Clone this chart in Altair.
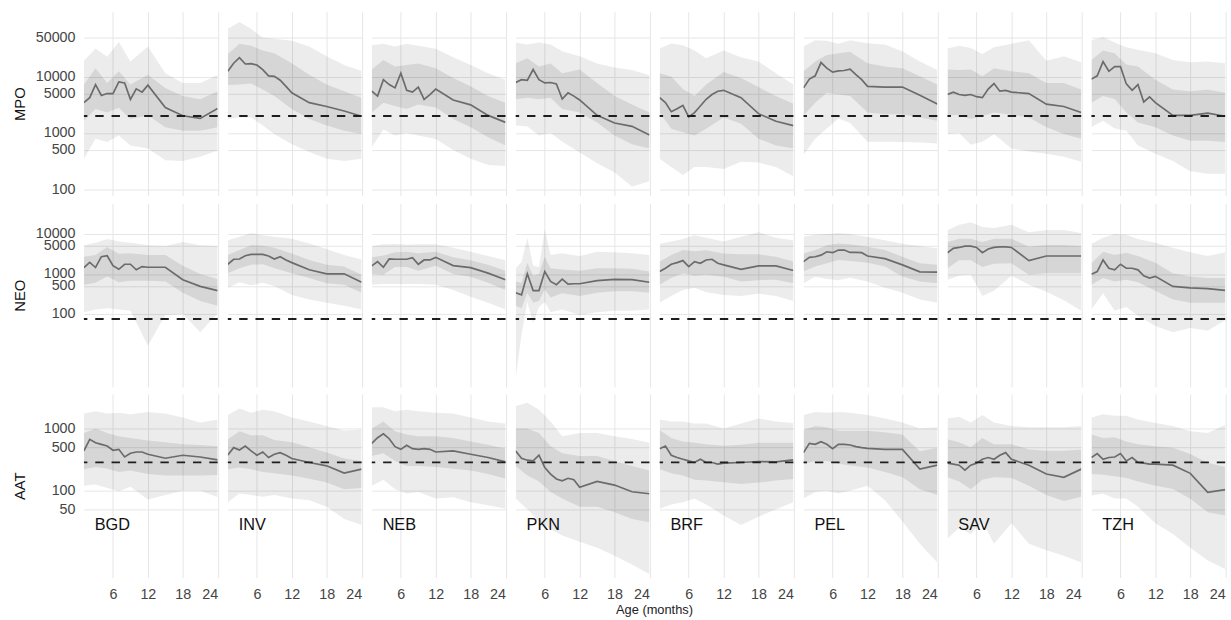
import altair as alt
import pandas as pd

SITES = ["BGD", "INV", "NEB", "PKN", "BRF", "PEL", "SAV", "TZH"]
LINE_MONTHS = [1, 2, 3, 4, 5, 6, 7, 8, 9, 10, 11, 12, 15, 18, 21, 24]
BAND_MONTHS = [1, 3, 5, 7, 9, 12, 15, 18, 21, 24]
PKN_NEO_BAND_MONTHS = [1, 2, 3, 4, 5, 6, 7, 9, 12, 15, 18, 21, 24]

# ---------------- MPO ----------------
MPO_MED = {
    "BGD": [3440, 4220, 7200, 4620, 5000, 5000, 8020, 7700, 3940, 6050, 5300, 7030, 2820, 2020, 1810, 2710],
    "INV": [12400, 17200, 21600, 16700, 16900, 16000, 13300, 10300, 10100, 8600, 6700, 5150, 3450, 2950, 2450, 1980],
    "NEB": [5500, 4500, 8800, 7200, 6300, 11500, 5700, 5300, 6500, 3950, 4800, 6000, 3850, 3150, 2050, 1540],
    "PKN": [7850, 8800, 8600, 13300, 8800, 7700, 7850, 7400, 4000, 5150, 4500, 3850, 2050, 1500, 1310, 920],
    "BRF": [4220, 3450, 2380, 2700, 3080, 1930, 2300, 3000, 3950, 4800, 5500, 5700, 4220, 2200, 1610, 1350],
    "PEL": [6300, 9000, 10300, 17700, 14100, 12000, 12600, 12800, 13500, 10800, 8800, 6700, 6500, 6500, 4650, 3250],
    "SAV": [4800, 5300, 4800, 4650, 4800, 4400, 4220, 6000, 7500, 5500, 5700, 5300, 5000, 3250, 2950, 2300],
    "TZH": [9000, 10300, 18400, 12400, 15000, 15000, 7400, 5700, 7200, 3550, 4350, 3450, 2050, 2050, 2250, 1980],
}
MPO_OUT_HI = {
    "BGD": [19000, 31500, 22500, 41000, 18500, 34000, 11500, 7700, 7700, 10700],
    "INV": [70000, 93000, 70000, 49000, 47000, 43000, 34000, 23000, 16000, 12500],
    "NEB": [36000, 38000, 34000, 38000, 35000, 31000, 22000, 16000, 11500, 8800],
    "PKN": [40000, 37000, 40000, 37000, 28000, 23000, 17000, 14500, 13000, 10500],
    "BRF": [31500, 38500, 36000, 29000, 21000, 29000, 22000, 18500, 11500, 7200],
    "PEL": [34000, 44000, 43000, 38000, 44000, 39000, 37000, 28000, 18500, 13000],
    "SAV": [31500, 35000, 32000, 25000, 33000, 38000, 44000, 19000, 23000, 18000],
    "TZH": [44000, 50000, 40000, 33000, 30000, 25800, 19700, 18000, 18400, 17200],
}
MPO_OUT_LO = {
    "BGD": [350, 790, 690, 900, 600, 530, 330, 320, 380, 490],
    "INV": [1760, 1900, 1890, 1350, 960, 630, 460, 350, 320, 350],
    "NEB": [560, 1150, 900, 1000, 900, 780, 500, 350, 270, 260],
    "PKN": [1350, 1300, 900, 1000, 700, 450, 290, 200, 113, 140],
    "BRF": [350, 250, 180, 250, 250, 230, 310, 300, 250, 170],
    "PEL": [410, 790, 1200, 1800, 1500, 700, 700, 690, 680, 650],
    "SAV": [950, 1000, 620, 700, 950, 530, 470, 430, 380, 310],
    "TZH": [1260, 1650, 1200, 1100, 600, 430, 320, 210, 190, 190],
}
MPO_IN_HI = {
    "BGD": [7200, 14100, 7700, 12400, 7200, 10800, 6300, 4500, 3950, 5500],
    "INV": [25000, 38000, 35000, 29000, 25800, 17200, 10800, 7200, 5500, 4200],
    "NEB": [13300, 19700, 15100, 16000, 17000, 14100, 9400, 6700, 4500, 3450],
    "PKN": [17200, 21000, 15000, 17000, 11500, 13300, 7700, 4500, 3200, 2300],
    "BRF": [11500, 10000, 6000, 4500, 7200, 12000, 9400, 6500, 4500, 3300],
    "PEL": [12400, 18400, 24000, 25800, 27500, 17200, 15000, 14100, 10100, 7200],
    "SAV": [13300, 13000, 13300, 10100, 14100, 12400, 11500, 7700, 7700, 5900],
    "TZH": [19700, 29000, 25800, 16400, 15000, 8800, 5900, 5500, 5900, 5150],
}
MPO_IN_LO = {
    "BGD": [1650, 2650, 2300, 2800, 1770, 2050, 1260, 1100, 1100, 1260],
    "INV": [7100, 7200, 7500, 5900, 4500, 2650, 1770, 1350, 1100, 960],
    "NEB": [2300, 3450, 3000, 2650, 3200, 2820, 1770, 1260, 840, 600],
    "PKN": [3950, 4200, 3950, 4200, 2650, 2300, 1540, 900, 630, 530],
    "BRF": [2300, 1190, 1030, 900, 1190, 1890, 1450, 790, 600, 530],
    "PEL": [2050, 3450, 5150, 4800, 4500, 2300, 2150, 2150, 1890, 1650],
    "SAV": [2050, 2100, 1770, 2000, 2300, 2100, 1890, 1260, 960, 790],
    "TZH": [3450, 4500, 4000, 2300, 1540, 1260, 900, 730, 730, 690],
}

# ---------------- NEO ----------------
NEO_MED = {
    "BGD": [1450, 1950, 1450, 2700, 2860, 1620, 1310, 1750, 1750, 1270, 1530, 1470, 1470, 720, 490, 385],
    "INV": [1750, 2330, 2370, 2860, 3080, 3080, 3080, 2810, 2370, 2700, 2240, 1920, 1270, 1010, 1010, 620],
    "NEB": [1590, 2040, 1470, 2370, 2330, 2330, 2330, 2560, 1750, 2240, 2240, 2600, 1620, 1440, 1050, 720],
    "PKN": [340, 300, 1010, 385, 385, 1150, 650, 540, 740, 560, 570, 570, 680, 730, 720, 620],
    "BRF": [1150, 1390, 1750, 1920, 2160, 1530, 2040, 1850, 2240, 2330, 1850, 1690, 1310, 1590, 1590, 1220],
    "PEL": [2040, 2600, 2700, 2960, 3590, 3400, 3960, 3960, 3450, 3450, 3400, 2810, 2410, 1690, 1130, 1110],
    "SAV": [3400, 4350, 4600, 4950, 4950, 4600, 3400, 4200, 4600, 4770, 4770, 4600, 2160, 2810, 2810, 2810],
    "TZH": [990, 1150, 2240, 1390, 1270, 1750, 1390, 1390, 1270, 900, 790, 870, 490, 450, 430, 390],
}
NEO_OUT_HI = {
    "BGD": [5200, 6000, 7500, 6500, 6000, 5200, 5000, 6300, 5200, 5000],
    "INV": [7000, 8500, 10600, 9300, 8500, 7600, 5800, 4200, 3000, 2300],
    "NEB": [5000, 5500, 5600, 5400, 5500, 5500, 4500, 3600, 2800, 2200],
    "PKN": [1400, 2000, 8000, 1600, 1500, 13000, 3000, 3300, 2800, 3600, 3500, 3300, 3000],
    "BRF": [5700, 6500, 7500, 9300, 8000, 6500, 8500, 11000, 8000, 7000],
    "PEL": [8500, 9500, 10000, 10500, 10000, 8400, 7000, 5700, 5000, 4400],
    "SAV": [12300, 17000, 19500, 15000, 14000, 17000, 11000, 12500, 12500, 10500],
    "TZH": [5700, 8000, 10000, 9500, 7500, 6000, 4500, 3500, 2800, 3500],
}
NEO_OUT_LO = {
    "BGD": [110, 130, 140, 130, 120, 16, 95, 100, 35, 105],
    "INV": [450, 620, 520, 600, 500, 300, 230, 190, 160, 130],
    "NEB": [540, 560, 560, 560, 560, 540, 400, 270, 190, 130],
    "PKN": [2.5, 30, 200, 60, 150, 200, 110, 130, 95, 110, 120, 120, 130],
    "BRF": [190, 280, 400, 450, 350, 300, 280, 320, 280, 210],
    "PEL": [590, 850, 750, 700, 800, 650, 450, 340, 230, 190],
    "SAV": [720, 900, 950, 280, 380, 900, 540, 360, 220, 120],
    "TZH": [130, 330, 120, 150, 90, 50, 35, 45, 38, 70],
}
NEO_IN_HI = {
    "BGD": [2700, 3000, 4700, 3200, 3300, 3000, 3000, 1600, 1000, 750],
    "INV": [2960, 3960, 5250, 5100, 4500, 3260, 2240, 1690, 1530, 950],
    "NEB": [2600, 2900, 3500, 3600, 3300, 3600, 2600, 2200, 1700, 1200],
    "PKN": [650, 600, 1900, 900, 1000, 2700, 1400, 1300, 1200, 1400, 1400, 1350, 1150],
    "BRF": [2040, 2960, 3960, 3700, 3900, 3260, 3100, 3100, 2700, 2040],
    "PEL": [3260, 3960, 5250, 5760, 5500, 4770, 3960, 2700, 1850, 1690],
    "SAV": [6300, 7600, 7600, 6300, 7600, 7600, 4800, 5300, 5300, 5000],
    "TZH": [1850, 3600, 3000, 3400, 2800, 1900, 1050, 870, 790, 790],
}
NEO_IN_LO = {
    "BGD": [540, 600, 870, 620, 680, 680, 650, 340, 210, 160],
    "INV": [1050, 1390, 1690, 1750, 1390, 1050, 790, 590, 540, 340],
    "NEB": [1000, 950, 1500, 1500, 1200, 1600, 1000, 850, 600, 400],
    "PKN": [160, 140, 340, 190, 210, 410, 260, 330, 280, 340, 370, 370, 340],
    "BRF": [540, 790, 1050, 900, 950, 850, 650, 700, 720, 590],
    "PEL": [1150, 1530, 1850, 2240, 2100, 1900, 1530, 870, 650, 590],
    "SAV": [1400, 2200, 2200, 1500, 1800, 1850, 950, 1050, 1050, 1050],
    "TZH": [540, 790, 650, 720, 620, 380, 230, 190, 190, 190],
}

# ---------------- AAT ----------------
AAT_MED = {
    "BGD": [435, 668, 591, 556, 522, 446, 462, 348, 399, 419, 419, 385, 332, 371, 348, 312],
    "INV": [375, 492, 451, 522, 435, 371, 419, 341, 385, 409, 371, 329, 284, 251, 192, 222],
    "NEB": [576, 711, 823, 685, 510, 462, 536, 474, 462, 474, 462, 419, 435, 385, 341, 290],
    "PKN": [435, 332, 309, 301, 371, 236, 185, 154, 144, 158, 150, 113, 141, 123, 96, 89],
    "BRF": [474, 522, 371, 341, 320, 301, 284, 320, 284, 284, 267, 277, 284, 294, 290, 312],
    "PEL": [409, 576, 556, 614, 556, 474, 556, 556, 542, 510, 492, 480, 462, 462, 222, 257],
    "SAV": [277, 267, 257, 214, 257, 277, 320, 341, 320, 371, 409, 320, 257, 185, 164, 222],
    "TZH": [341, 395, 320, 341, 348, 395, 301, 341, 284, 277, 267, 267, 257, 190, 94, 104],
}
AAT_OUT_HI = {
    "BGD": [1740, 1900, 1750, 1800, 1700, 1850, 1750, 1500, 1250, 1400],
    "INV": [1650, 2100, 1800, 2000, 1900, 1500, 1300, 1100, 930, 960],
    "NEB": [2200, 2200, 1900, 2000, 1900, 1800, 1750, 1500, 1300, 1200],
    "PKN": [2300, 2600, 2000, 1300, 750, 850, 850, 750, 680, 590],
    "BRF": [1400, 1300, 1300, 1200, 1200, 1000, 1200, 1450, 1300, 1230],
    "PEL": [1650, 1850, 1800, 1850, 1800, 1650, 1450, 1250, 1000, 1050],
    "SAV": [1450, 1550, 1250, 1650, 1250, 1100, 1050, 1050, 1050, 1100],
    "TZH": [1500, 1700, 1600, 1600, 1400, 1230, 1100, 900, 850, 1150],
}
AAT_OUT_LO = {
    "BGD": [120, 125, 110, 98, 115, 72, 85, 100, 100, 78],
    "INV": [65, 90, 85, 80, 85, 75, 70, 55, 35, 28],
    "NEB": [120, 150, 105, 90, 95, 75, 78, 65, 58, 51],
    "PKN": [75, 50, 32, 24, 19, 15, 12, 9, 6.5, 4.5],
    "BRF": [51, 60, 65, 74, 60, 40, 28, 38, 50, 65],
    "PEL": [75, 95, 100, 90, 100, 120, 70, 32, 14, 7],
    "SAV": [17, 25, 20, 32, 14, 30, 14, 11, 9, 7],
    "TZH": [83, 90, 75, 75, 55, 30, 20, 12, 7.5, 5.5],
}
AAT_IN_HI = {
    "BGD": [850, 1000, 850, 750, 700, 640, 600, 560, 540, 520],
    "INV": [670, 900, 780, 780, 650, 600, 500, 410, 330, 300],
    "NEB": [1000, 1300, 900, 800, 750, 750, 700, 620, 550, 470],
    "PKN": [1000, 1000, 850, 520, 400, 360, 360, 300, 250, 210],
    "BRF": [950, 700, 620, 590, 560, 530, 550, 590, 590, 590],
    "PEL": [950, 1100, 1050, 920, 920, 920, 870, 800, 430, 490],
    "SAV": [670, 600, 500, 700, 560, 560, 460, 440, 440, 460],
    "TZH": [800, 700, 720, 620, 560, 520, 490, 390, 280, 240],
}
AAT_IN_LO = {
    "BGD": [220, 240, 225, 200, 210, 185, 175, 175, 175, 178],
    "INV": [220, 235, 220, 200, 190, 175, 155, 135, 105, 110],
    "NEB": [360, 400, 300, 250, 250, 240, 225, 210, 185, 155],
    "PKN": [250, 175, 140, 95, 75, 55, 55, 45, 35, 31],
    "BRF": [220, 190, 175, 150, 145, 136, 128, 135, 145, 154],
    "PEL": [265, 300, 300, 270, 255, 235, 200, 165, 105, 85],
    "SAV": [165, 140, 105, 150, 165, 160, 120, 85, 68, 80],
    "TZH": [185, 180, 170, 160, 140, 120, 106, 74, 45, 40],
}

REF = {"MPO": 2000, "NEO": 75, "AAT": 285}
Y_DOMAIN = {"MPO": [78, 140000], "NEO": [1.5, 58000], "AAT": [4, 3600]}
Y_TICKS = {
    "MPO": [100, 500, 1000, 5000, 10000, 50000],
    "NEO": [100, 500, 1000, 5000, 10000],
    "AAT": [50, 100, 500, 1000],
}
X_TICKS = [6, 12, 18, 24]

FONT = "Liberation Sans"
PANEL_W = 135.5
PANEL_H = 186


def build(marker, med, out_lo, out_hi, in_lo, in_hi, overrides):
    rows = []
    for s in SITES:
        for m, v in zip(LINE_MONTHS, med[s]):
            rows.append({"site": s, "month": m, "kind": "line", "val": v})
        bm = overrides.get(s, BAND_MONTHS)
        for i, m in enumerate(bm):
            rows.append({"site": s, "month": m, "kind": "outer", "lo": out_lo[s][i], "hi": out_hi[s][i]})
            rows.append({"site": s, "month": m, "kind": "inner", "lo": in_lo[s][i], "hi": in_hi[s][i]})
        rows.append({"site": s, "month": 1, "kind": "ref", "val": REF[marker]})
    return pd.DataFrame(rows)


def row_chart(marker, df, bottom):
    yscale = alt.Scale(type="log", domain=Y_DOMAIN[marker], nice=False)
    yaxis = alt.Axis(
        values=Y_TICKS[marker], format="d", ticks=False, domain=False,
        labelFontSize=14.5, labelColor="#444444", labelPadding=8, labelOverlap=False,
        titleFontSize=15, titleFontWeight="normal", titleColor="#111111", titlePadding=6,
        minExtent=50, maxExtent=50, grid=True,
    )
    if bottom:
        xaxis = alt.Axis(values=X_TICKS, ticks=False, domain=False, labelFontSize=14.5,
                         labelColor="#444444", labelPadding=10, grid=True)
    else:
        xaxis = alt.Axis(values=X_TICKS, ticks=False, domain=False, labels=False, grid=True)
    x = alt.X("month:Q", scale=alt.Scale(domain=[1, 24], nice=False, zero=False), axis=xaxis, title=None)

    base = alt.Chart()
    outer = base.mark_area(color="black", opacity=0.075, clip=True).encode(
        x=x, y=alt.Y("lo:Q", scale=yscale, axis=yaxis, title=marker), y2="hi:Q"
    ).transform_filter(alt.datum.kind == "outer")
    inner = base.mark_area(color="black", opacity=0.09, clip=True).encode(
        x=x, y=alt.Y("lo:Q", scale=yscale, axis=yaxis, title=marker), y2="hi:Q"
    ).transform_filter(alt.datum.kind == "inner")
    line = base.mark_line(color="#6b6b6b", strokeWidth=1.7, clip=True).encode(
        x=x, y=alt.Y("val:Q", scale=yscale, axis=yaxis, title=marker)
    ).transform_filter(alt.datum.kind == "line")
    rule = base.mark_rule(color="#1e1e1e", strokeWidth=2, strokeDash=[8.5, 8]).encode(
        y=alt.Y("val:Q", scale=yscale, axis=yaxis, title=marker)
    ).transform_filter(alt.datum.kind == "ref")
    layers = [outer, inner, line, rule]
    if bottom:
        label = base.mark_text(align="left", baseline="alphabetic", fontSize=16.5,
                               font=FONT, color="#111111").encode(
            x=alt.value(11), y=alt.value(138), text="site:N"
        ).transform_filter(alt.datum.kind == "ref")
        layers.append(label)
    lay = alt.layer(*layers, data=df).properties(width=PANEL_W, height=PANEL_H)
    if bottom:
        col = alt.Column("site:N", sort=SITES, title="Age (months)",
                         header=alt.Header(labels=False, labelPadding=0, titleOrient="bottom",
                                           titleFontSize=13, titleFontWeight="normal",
                                           titleColor="#222222", titleFont=FONT, titlePadding=-7))
    else:
        col = alt.Column("site:N", sort=SITES, title=None,
                         header=alt.Header(labels=False, labelPadding=0))
    return lay.facet(column=col, spacing=7.8)


df_mpo = build("MPO", MPO_MED, MPO_OUT_LO, MPO_OUT_HI, MPO_IN_LO, MPO_IN_HI, {})
df_neo = build("NEO", NEO_MED, NEO_OUT_LO, NEO_OUT_HI, NEO_IN_LO, NEO_IN_HI, {"PKN": PKN_NEO_BAND_MONTHS})
df_aat = build("AAT", AAT_MED, AAT_OUT_LO, AAT_OUT_HI, AAT_IN_LO, AAT_IN_HI, {})

chart = alt.vconcat(
    row_chart("MPO", df_mpo, False),
    row_chart("NEO", df_neo, False),
    row_chart("AAT", df_aat, True),
    spacing=7,
).properties(
    padding={"left": 13, "top": 8, "right": 4, "bottom": 0},
    background="white",
).configure_view(stroke=None).configure_axis(
    gridColor="#e6e6e6", gridWidth=1, labelFont=FONT, titleFont=FONT
).configure_header(labelFont=FONT, titleFont=FONT)

chart.save("out.html", embed_options={"renderer": "svg", "actions": False})
